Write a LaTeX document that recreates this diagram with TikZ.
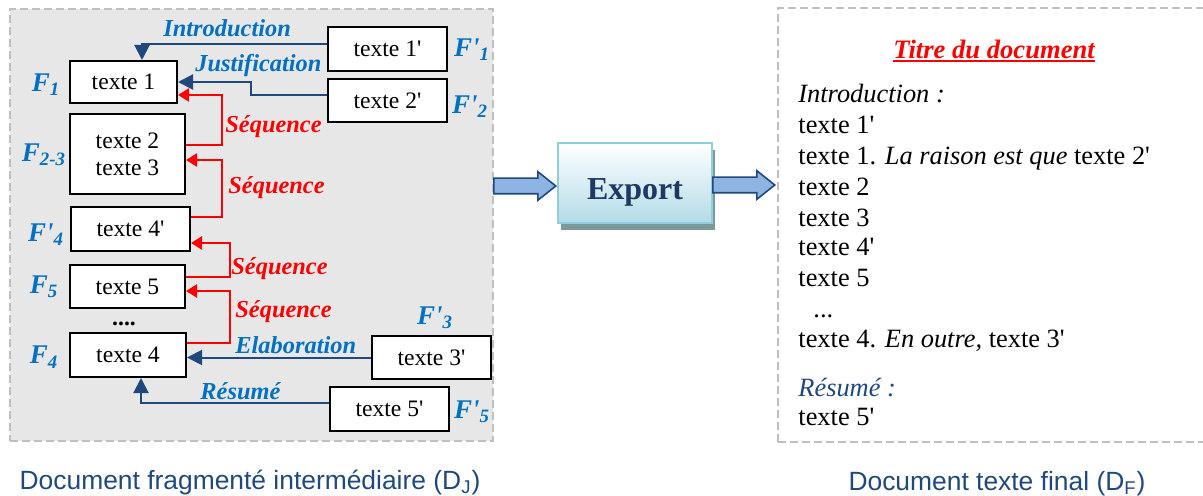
\documentclass[tikz,border=0pt]{standalone}
\usepackage{fontspec}
\setmainfont{Liberation Serif}[Ligatures=TeXOff]
\setsansfont{Liberation Sans}
\usetikzlibrary{arrows.meta,shapes.arrows,shadows,positioning}
\definecolor{labelblue}{HTML}{0070C0}
\definecolor{linkblue}{HTML}{1F497D}
\definecolor{panelgray}{HTML}{E7E7E7}
\definecolor{dashgray}{HTML}{BFBFBF}
\definecolor{arrowfill}{HTML}{8DB4E2}
\definecolor{exportfill}{HTML}{B3DBE6}
\definecolor{exportline}{HTML}{92CDDC}
\definecolor{exporttext}{HTML}{1F3864}
\newcommand{\frag}[2]{F#1\textsubscript{#2}}

\begin{document}
\begin{tikzpicture}[x=0.5pt,y=-0.5pt,every node/.style={inner sep=0pt},
    panel/.style={draw=dashgray,dashed,dash pattern=on 4pt off 2pt,line width=1pt},
    box/.style={draw,line width=1pt,fill=white,align=center,
      font=\fontsize{11.8}{13.5}\selectfont},
    fraglabel/.style={font=\fontsize{13.5}{15}\selectfont\bfseries\itshape,text=labelblue},
    rellabel/.style={anchor=base west,font=\fontsize{12.2}{14}\selectfont\bfseries\itshape,text=labelblue},
    seqlabel/.style={rellabel,text=red},
    rel/.style={draw=linkblue,line width=1pt,-{Triangle[length=7.5pt,width=7.5pt]}},
    seq/.style={draw=red,line width=1.2pt,-{Triangle[length=5.5pt,width=6.5pt]}},
    blockarrow/.style={single arrow,draw=linkblue,line width=0.8pt,fill=arrowfill,
      anchor=tail,minimum height=31pt,inner xsep=0pt,inner ysep=3.5pt,
      single arrow head extend=3.25pt,single arrow tip angle=77},
    doc/.style={anchor=base west,font=\fontsize{13.2}{15}\selectfont},
    caption/.style={anchor=base,font=\sffamily\fontsize{13.2}{15}\selectfont,text=linkblue}]
    \useasboundingbox (0,0) rectangle (1203,496);

    % the two documents
    \node[panel,fill=panelgray,minimum width=241.5pt,minimum height=216pt] (dj) at (251.5,225) {};
    \node[panel,fill=white,minimum width=226pt,minimum height=217pt] (df) at (1004,225) {};

    % fragments
    \node[box,minimum width=59.5pt,minimum height=22pt]   (t1p) at (387.5,49)    {texte 1'};
    \node[box,minimum width=59.5pt,minimum height=21.5pt] (t2p) at (387.5,100.5) {texte 2'};
    \node[box,minimum width=53.5pt,minimum height=21pt]   (t1)  at (123.5,82)    {texte 1};
    \node[box,minimum width=57.5pt,minimum height=40pt]   (t23) at (127.5,154)   {texte 2\\texte 3};
    \node[box,minimum width=59.5pt,minimum height=22pt]   (t4p) at (130.5,229)   {texte 4'};
    \node[box,minimum width=57.5pt,minimum height=21.5pt] (t5)  at (127.5,286.5) {texte 5};
    \node[box,minimum width=58pt,minimum height=22pt]     (t4)  at (128,355)     {texte 4};
    \node[box,minimum width=59.5pt,minimum height=21.5pt] (t3p) at (431.5,357.5) {texte 3'};
    \node[box,minimum width=59.5pt,minimum height=22pt]   (t5p) at (389.5,409)   {texte 5'};
    \node[anchor=base,font=\fontsize{11.8}{13.5}\selectfont\bfseries] (dots) at (124,326) {....};

    \node[fraglabel] (f1p) at (472,50)  {\frag{'}{1}};
    \node[fraglabel] (f2p) at (470,107) {\frag{'}{2}};
    \node[fraglabel] (f1)  at (46,85)   {\frag{}{1}};
    \node[fraglabel] (f23) at (44,155)  {\frag{}{2-3}};
    \node[fraglabel] (f4p) at (46,235)  {\frag{'}{4}};
    \node[fraglabel] (f5)  at (44,287)  {\frag{}{5}};
    \node[fraglabel] (f4)  at (44,357)  {\frag{}{4}};
    \node[fraglabel] (f3p) at (435,318) {\frag{'}{3}};
    \node[fraglabel] (f5p) at (472,412) {\frag{'}{5}};

    % relations
    \draw[rel] ([yshift=2.5pt]t1p.west) -| ([xshift=9.25pt]t1.north);
    \draw[rel] ([yshift=2.75pt]t2p.west) -- ++(-38pt,0) |- (t1.east);
    \draw[seq] ([yshift=4.5pt]t23.east) -- ++(18pt,0) |- ([yshift=-6.5pt]t1.east);
    \draw[seq] ([yshift=6pt]t4p.east) -- ++(15.5pt,0) |- ([yshift=-3pt]t23.east);
    \draw[seq] ([yshift=4.75pt]t5.east) -- ++(22pt,0) |- ([yshift=-7pt]t4p.east);
    \draw[seq] ([yshift=6pt]t4.east) -- ++(21.5pt,0) |- ([yshift=-2.25pt]t5.east);
    \draw[rel] (t3p.west) -- (t3p.west -| t4.east);
    \draw[rel] ([yshift=3pt]t5p.west) -| ([xshift=6.5pt]t4.south);

    \node[rellabel] (intro) at (163,37)  {Introduction};
    \node[rellabel] (just)  at (195,72)  {Justification};
    \node[seqlabel] (seqa)  at (225,133) {Séquence};
    \node[seqlabel] (seqb)  at (228,194) {Séquence};
    \node[seqlabel] (seqc)  at (231,275) {Séquence};
    \node[seqlabel] (seqd)  at (235,318) {Séquence};
    \node[rellabel] (elab)  at (235,353) {Elaboration};
    \node[rellabel] (resum) at (200,399) {Résumé};

    % export
    \node[draw=exportline,line width=1.2pt,top color=white,bottom color=exportfill,
      minimum width=77pt,minimum height=40pt,text height=17pt,text depth=0pt,
      drop shadow={shadow xshift=1.5pt,shadow yshift=-3.5pt,fill=teal!30!gray!80,opacity=1},
      font=\fontsize{16}{18}\selectfont\bfseries,text=exporttext] (export) at (635,183) {Export};
    \node[blockarrow] (arrin)  at (493,186) {};
    \node[blockarrow] (arrout) at (712,185) {};

    % final text
    \node[anchor=base,font=\fontsize{13.3}{15}\selectfont\bfseries\itshape,text=red] (titre) at (994,59) {Titre du document};
    \draw[red,line width=1.1pt] ([yshift=-1.2pt]titre.base west) -- ([yshift=-1.2pt]titre.base east);
    \node[doc] (l1)  at (798,103) {\itshape Introduction :};
    \node[doc] (l2)  at (798,134) {texte 1'};
    \node[doc] (l3)  at (798,165) {texte 1. \textit{La raison est que} texte 2'};
    \node[doc] (l4)  at (798,196) {texte 2};
    \node[doc] (l5)  at (798,227) {texte 3};
    \node[doc] (l6)  at (798,256) {texte 4'};
    \node[doc] (l7)  at (798,287) {texte 5};
    \node[doc] (l8)  at (813,318) {...};
    \node[doc] (l9)  at (798,348) {texte 4. \textit{En outre,} texte 3'};
    \node[doc,text=linkblue] (l10) at (798,396) {\itshape Résumé :};
    \node[doc] (l11) at (798,425) {texte 5'};

    \node[caption] (capj) at (250,489) {Document fragmenté intermédiaire (D\textsubscript{J})};
    \node[caption] (capf) at (997,490) {Document texte final (D\textsubscript{F})};
  \end{tikzpicture}
\end{document}
